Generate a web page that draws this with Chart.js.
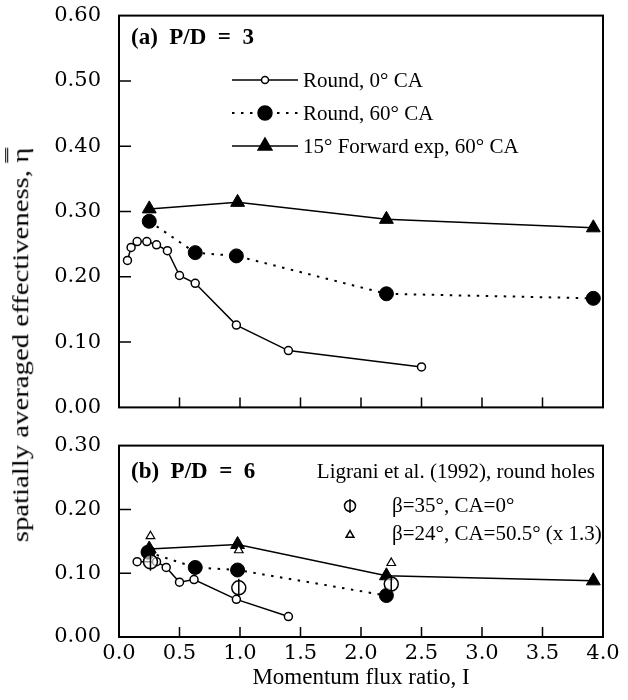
<!DOCTYPE html>
<html><head><meta charset="utf-8">
<script src="https://cdn.jsdelivr.net/npm/chart.js@4.4.0/dist/chart.umd.min.js"></script>
<style>
html,body{margin:0;padding:0;background:#fff;}
#wrap{position:relative;width:628px;height:700px;overflow:hidden;background:#fff;}
#top{position:absolute;left:0;top:-15px;}
#bot{position:absolute;left:0;top:415px;}
#ytitle{position:absolute;left:21px;top:345px;transform:translate(-50%,-50%) rotate(-90deg) scaleX(1.25);white-space:nowrap;font-family:"Liberation Serif",serif;font-size:23px;color:#000;line-height:1.2;}
#ytitle .eta{text-decoration-line:overline;text-decoration-style:double;text-decoration-thickness:1px;}
</style></head><body>
<div id="wrap">
<canvas id="top" width="628" height="453"></canvas>
<canvas id="bot" width="628" height="285"></canvas>
<div id="ytitle">spatially averaged effectiveness, <span class="eta">η</span></div>
</div>
<script>
// ---- tick labels ----
const xTickVals = [0, 0.5, 1, 1.5, 2, 2.5, 3, 3.5, 4];
const xTickLabels = ['0.0','0.5','1.0','1.5','2.0','2.5','3.0','3.5','4.0'];
const yTickValsTop = [0, 0.1, 0.2, 0.3, 0.4, 0.5, 0.6];
const yTickLabelsTop = ['0.00','0.10','0.20','0.30','0.40','0.50','0.60'];
const yTickValsBot = [0, 0.1, 0.2, 0.3];
const yTickLabelsBot = ['0.00','0.10','0.20','0.30'];

// ---- series names ----
const seriesNames = ['Round, 0° CA', 'Round, 60° CA', '15° Forward exp, 60° CA'];
const ligraniTitle = 'Ligrani et al. (1992), round holes';
const ligraniNames = ['β=35°, CA=0°', 'β=24°, CA=50.5° (x 1.3)'];
const panelTitles = ['(a)  P/D  =  3', '(b)  P/D  =  6'];
const xTitle = 'Momentum flux ratio, I';

// ---- (a) P/D = 3 ----
const xRound0Top = [0.07, 0.10, 0.15, 0.23, 0.31, 0.40, 0.50, 0.63, 0.97, 1.40, 2.50];
const yRound0Top = [0.225, 0.245, 0.254, 0.254, 0.249, 0.240, 0.202, 0.190, 0.126, 0.087, 0.062];
const xRound60Top = [0.25, 0.63, 0.97, 2.21, 3.92];
const yRound60Top = [0.285, 0.237, 0.232, 0.174, 0.167];
const xFwdTop = [0.25, 0.98, 2.21, 3.92];
const yFwdTop = [0.304, 0.314, 0.288, 0.275];

// ---- (b) P/D = 6 ----
const xRound0Bot = [0.15, 0.31, 0.39, 0.50, 0.62, 0.97, 1.40];
const yRound0Bot = [0.118, 0.118, 0.109, 0.086, 0.090, 0.059, 0.032];
const xRound60Bot = [0.24, 0.63, 0.98, 2.21];
const yRound60Bot = [0.133, 0.109, 0.105, 0.065];
const xFwdBot = [0.25, 0.98, 2.21, 3.92];
const yFwdBot = [0.138, 0.145, 0.096, 0.088];
const xLig35 = [0.26, 0.99, 2.25];
const yLig35 = [0.118, 0.077, 0.083];
const xLig24 = [0.26, 0.99, 2.25];
const yLig24 = [0.158, 0.136, 0.116];

const pts = (xs, ys) => xs.map((x, i) => ({x: x, y: ys[i]}));
const SERIF = '"Liberation Serif", "Times New Roman", serif';
const tickFont = {family: '"DejaVu Serif", serif', size: 21};

const styleRound0 = {borderColor:'#000', borderWidth:1.5, pointStyle:'circle', pointRadius:4, pointBorderWidth:1.5, pointBackgroundColor:'#fff', pointBorderColor:'#000', fill:false, tension:0};
const styleRound60 = {borderColor:'#000', borderWidth:2, borderDash:[2.5,6.5], pointStyle:'circle', pointRadius:7, pointBorderWidth:1, pointBackgroundColor:'#000', pointBorderColor:'#000', fill:false, tension:0};
const styleFwd = {borderColor:'#000', borderWidth:1.5, pointStyle:'triangle', pointRadius:8, pointBorderWidth:1, pointBackgroundColor:'#000', pointBorderColor:'#000', fill:false, tension:0};

function drawMarker(ctx, style, radius, x, y, fill, rotation) {
  ctx.save();
  ctx.fillStyle = fill;
  ctx.strokeStyle = '#000';
  ctx.lineWidth = 1.5;
  ctx.setLineDash([]);
  Chart.helpers.drawPoint(ctx, {pointStyle: style, radius: radius, rotation: rotation || 0, borderWidth: 1.5}, x, y);
  ctx.restore();
}

function framePlugin(cfg) {
  return {
    id: 'frame' + cfg.name,
    afterDatasetsDraw(chart) {
      const ctx = chart.ctx, a = chart.chartArea, xs = chart.scales.x, ys = chart.scales.y;
      ctx.save();
      ctx.strokeStyle = '#000';
      ctx.lineWidth = 2;
      ctx.setLineDash([]);
      ctx.strokeRect(a.left, a.top, a.right - a.left, a.bottom - a.top);
      ctx.lineWidth = 1.5;
      ctx.beginPath();
      cfg.yVals.slice(1, -1).forEach(v => { const py = ys.getPixelForValue(v); ctx.moveTo(a.left, py); ctx.lineTo(a.left + 12, py); });
      xTickVals.slice(1, -1).forEach(v => { const px = xs.getPixelForValue(v); ctx.moveTo(px, a.bottom); ctx.lineTo(px, a.bottom - 10); });
      ctx.stroke();
      ctx.fillStyle = '#000';
      ctx.textBaseline = 'middle';
      ctx.textAlign = 'left';
      ctx.font = 'bold 23px ' + SERIF;
      ctx.fillText(cfg.title, 131, cfg.titleY - cfg.off);
      cfg.legend(ctx, cfg.off);
      ctx.restore();
    }
  };
}

function topLegend(ctx, off) {
  const rows = [80, 113, 146];
  const styles = [styleRound0, styleRound60, styleFwd];
  const mk = [{s:'circle', r:3.5, f:'#fff'}, {s:'circle', r:7, f:'#000'}, {s:'triangle', r:8, f:'#000'}];
  rows.forEach((py, i) => {
    const y = py - off;
    ctx.save();
    ctx.strokeStyle = '#000';
    ctx.lineWidth = styles[i].borderWidth;
    ctx.setLineDash(styles[i].borderDash || []);
    ctx.beginPath(); ctx.moveTo(232, y); ctx.lineTo(298, y); ctx.stroke();
    ctx.restore();
    drawMarker(ctx, mk[i].s, mk[i].r, 265, y, mk[i].f);
    ctx.fillStyle = '#000';
    ctx.font = '21px ' + SERIF;
    ctx.textAlign = 'left';
    ctx.textBaseline = 'middle';
    ctx.fillText(seriesNames[i], 303, y + 1);
  });
}

function botLegend(ctx, off) {
  ctx.fillStyle = '#000';
  ctx.font = '21px ' + SERIF;
  ctx.textBaseline = 'middle';
  ctx.textAlign = 'right';
  ctx.fillText(ligraniTitle, 595, 472 - off);
  ctx.textAlign = 'left';
  ctx.fillText(ligraniNames[0], 392, 506 - off);
  ctx.fillText(ligraniNames[1], 392, 534 - off);
  drawMarker(ctx, 'circle', 5.5, 350, 506 - off, 'rgba(0,0,0,0)');
  drawMarker(ctx, 'line', 7, 350, 506 - off, '#000', 90);
  drawMarker(ctx, 'triangle', 4.5, 350, 535 - off, '#fff');
}

function yScale(vals, labels, max) {
  return {
    min: 0, max: max,
    afterBuildTicks: s => { s.ticks = vals.map(v => ({value: v})); },
    ticks: {callback: v => labels[vals.indexOf(v)], padding: 18, font: tickFont, color: '#000'},
    grid: {display: false, drawTicks: false},
    border: {display: false},
    afterFit: s => { s.width = 119; }
  };
}

new Chart(document.getElementById('top'), {
  type: 'line',
  data: {datasets: [
    Object.assign({label: seriesNames[0], data: pts(xRound0Top, yRound0Top)}, styleRound0),
    Object.assign({label: seriesNames[1], data: pts(xRound60Top, yRound60Top)}, styleRound60),
    Object.assign({label: seriesNames[2], data: pts(xFwdTop, yFwdTop)}, styleFwd)
  ]},
  options: {
    responsive: false, animation: false, devicePixelRatio: 1,
    layout: {padding: {left: 0, right: 25, top: 0, bottom: 0}},
    plugins: {legend: {display: false}, tooltip: {enabled: false}},
    scales: {
      x: {type: 'linear', min: 0, max: 4, display: false},
      y: yScale(yTickValsTop, yTickLabelsTop, 0.6)
    }
  },
  plugins: [framePlugin({name: 'a', off: -15, yVals: yTickValsTop, title: panelTitles[0], titleY: 38, legend: topLegend})]
});

new Chart(document.getElementById('bot'), {
  type: 'line',
  data: {datasets: [
    {label: ligraniNames[1], data: pts(xLig24, yLig24), showLine: false, pointStyle: 'triangle', pointRadius: 5, pointBorderWidth: 1.2, pointBackgroundColor: '#fff', pointBorderColor: '#000'},
    {label: ligraniNames[0], data: pts(xLig35, yLig35), showLine: false, pointStyle: 'line', pointRotation: 90, pointRadius: 9, pointBorderWidth: 1.5, pointBorderColor: '#000'},
    {label: ligraniNames[0], data: pts(xLig35, yLig35), showLine: false, pointStyle: 'circle', pointRadius: 7, pointBorderWidth: 1.5, pointBackgroundColor: 'rgba(255,255,255,0.6)', pointBorderColor: '#000'},
    Object.assign({label: seriesNames[0], data: pts(xRound0Bot, yRound0Bot)}, styleRound0),
    Object.assign({label: seriesNames[1], data: pts(xRound60Bot, yRound60Bot)}, styleRound60),
    Object.assign({label: seriesNames[2], data: pts(xFwdBot, yFwdBot)}, styleFwd)
  ]},
  options: {
    responsive: false, animation: false, devicePixelRatio: 1,
    layout: {padding: {left: 0, right: 25, top: 0, bottom: 0}},
    plugins: {legend: {display: false}, tooltip: {enabled: false}},
    scales: {
      x: {
        type: 'linear', min: 0, max: 4,
        afterBuildTicks: s => { s.ticks = xTickVals.map(v => ({value: v})); },
        ticks: {callback: v => xTickLabels[xTickVals.indexOf(v)], padding: 4, font: tickFont, color: '#000', maxRotation: 0, autoSkip: false},
        grid: {display: false, drawTicks: false},
        border: {display: false},
        title: {display: true, text: xTitle, font: {family: SERIF, size: 23}, color: '#000', padding: {top: 8, bottom: 8}},
        afterFit: s => { s.height = 63; }
      },
      y: yScale(yTickValsBot, yTickLabelsBot, 0.3)
    }
  },
  plugins: [framePlugin({name: 'b', off: 415, yVals: yTickValsBot, title: panelTitles[1], titleY: 472, legend: botLegend})]
});
</script>
</body></html>
